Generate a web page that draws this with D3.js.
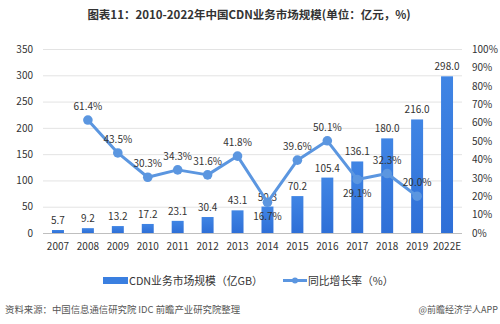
<!DOCTYPE html>
<html><head><meta charset="utf-8">
<script src="https://cdn.jsdelivr.net/npm/d3@7"></script>
<style>body{margin:0;background:#fff}svg{display:block}</style>
</head><body>
<svg id="c" width="500" height="324"></svg>
<script>
const categories = ["2007","2008","2009","2010","2011","2012","2013","2014","2015","2016","2017","2018","2019","2022E"];
const marketSize = [5.7,9.2,13.2,17.2,23.1,30.4,43.1,50.3,70.2,105.4,136.1,180.0,216.0,298.0];
const growthRate = [null,61.4,43.5,30.3,34.3,31.6,41.8,16.7,39.6,50.1,29.1,32.3,20.0,null];
const growthLabelBelow = [false,false,false,false,false,false,false,true,false,false,true,false,false,false];
const leftTicks = [0,50,100,150,200,250,300,350];
const rightTicks = [0,10,20,30,40,50,60,70,80,90,100];
const title = "图表11：2010-2022年中国CDN业务市场规模(单位：亿元，%)";
const legendBar = "CDN业务市场规模（亿GB）";
const legendLine = "同比增长率（%）";
const sourceText = "资料来源：中国信息通信研究院 IDC 前瞻产业研究院整理";
const creditText = "@前瞻经济学人APP";

const svg = d3.select("#c");
const font = "'Microsoft YaHei','Noto Sans CJK SC','Noto Sans',sans-serif";
const m = {l:43, r:462, t:49, b:233};
const x = d3.scaleBand().domain(categories).range([m.l, m.r]).paddingInner(0.6).paddingOuter(0.3);
const xc = d => x(d) + x.bandwidth()/2;
const y = d3.scaleLinear().domain([0,350]).range([m.b, m.t]);
const y2 = d3.scaleLinear().domain([0,100]).range([m.b, m.t]);

const defs = svg.append("defs");
const g = defs.append("linearGradient").attr("id","bg").attr("x1",0).attr("y1",0).attr("x2",0).attr("y2",1);
g.append("stop").attr("offset","0%").attr("stop-color","#4085e4");
g.append("stop").attr("offset","100%").attr("stop-color","#2e6fd7");

svg.append("text").attr("x",249).attr("y",19).attr("text-anchor","middle")
  .attr("font-family",font).attr("font-weight","bold").attr("font-size",11.5).attr("fill","#333").text(title);

// gridlines
svg.append("g").selectAll("line").data(leftTicks).join("line")
  .attr("x1",m.l).attr("x2",m.r).attr("y1",d=>y(d)+0.5).attr("y2",d=>y(d)+0.5)
  .attr("stroke",d=>d===0?"#bfbfbf":"#e3e3e3").attr("stroke-width",1);

// left axis
const la = svg.append("g").attr("transform",`translate(${m.l},0)`)
  .call(d3.axisLeft(y).tickValues(leftTicks).tickSize(0).tickPadding(10));
la.select(".domain").remove();
la.selectAll("text").attr("font-family",font).attr("font-size",10).attr("fill","#333");

// right axis
const ra = svg.append("g").attr("transform",`translate(${m.r},0)`)
  .call(d3.axisRight(y2).tickValues(rightTicks).tickFormat(d=>d+"%").tickSize(0).tickPadding(10));
ra.select(".domain").remove();
ra.selectAll("text").attr("font-family",font).attr("font-size",10).attr("fill","#333");

// bottom axis
const ba = svg.append("g").attr("transform",`translate(0,${m.b})`)
  .call(d3.axisBottom(x).tickSize(0).tickPadding(10));
ba.select(".domain").remove();
ba.selectAll("text").attr("font-family",font).attr("font-size",10).attr("fill","#333");

// bars
svg.append("g").selectAll("rect").data(marketSize).join("rect")
  .attr("x",(d,i)=>x(categories[i])).attr("width",x.bandwidth())
  .attr("y",d=>y(d)).attr("height",d=>m.b-y(d)).attr("fill","url(#bg)");
svg.append("g").selectAll("text").data(marketSize).join("text")
  .attr("x",(d,i)=>xc(categories[i])).attr("y",d=>y(d)-6).attr("text-anchor","middle")
  .attr("font-family",font).attr("font-size",10).attr("fill","#333").text(d=>d.toFixed(1));

// line
const pts = growthRate.map((v,i)=>({v,i})).filter(d=>d.v!==null);
svg.append("path").datum(pts)
  .attr("d",d3.line().x(d=>xc(categories[d.i])).y(d=>y2(d.v)))
  .attr("fill","none").attr("stroke","#5b96e0").attr("stroke-width",3).attr("stroke-linejoin","round");
svg.append("g").selectAll("circle").data(pts).join("circle")
  .attr("cx",d=>xc(categories[d.i])).attr("cy",d=>y2(d.v)).attr("r",4.8).attr("fill","#5b96e0");
svg.append("g").selectAll("text").data(pts).join("text")
  .attr("x",d=>xc(categories[d.i])).attr("y",d=>growthLabelBelow[d.i]? y2(d.v)+18 : y2(d.v)-10)
  .attr("text-anchor","middle").attr("font-family",font).attr("font-size",10).attr("fill","#333")
  .text(d=>d.v.toFixed(1)+"%");

// legend
svg.append("rect").attr("x",103).attr("y",277).attr("width",25).attr("height",7).attr("fill","#3a7fe0");
svg.append("text").attr("x",129).attr("y",284.5).attr("font-family",font).attr("font-size",10.8).attr("fill","#333").text(legendBar);
svg.append("line").attr("x1",283).attr("x2",307).attr("y1",280.5).attr("y2",280.5).attr("stroke","#5b96e0").attr("stroke-width",3);
svg.append("circle").attr("cx",295).attr("cy",280.5).attr("r",3).attr("fill","#5b96e0");
svg.append("text").attr("x",308).attr("y",284.5).attr("font-family",font).attr("font-size",10.8).attr("fill","#333").text(legendLine);

// source
svg.append("text").attr("x",5).attr("y",313).attr("font-family",font).attr("font-size",9.4).attr("fill","#555").text(sourceText);
svg.append("text").attr("x",498).attr("y",313).attr("text-anchor","end").attr("font-family",font).attr("font-size",9).attr("fill","#555").text(creditText);
</script>
</body></html>
